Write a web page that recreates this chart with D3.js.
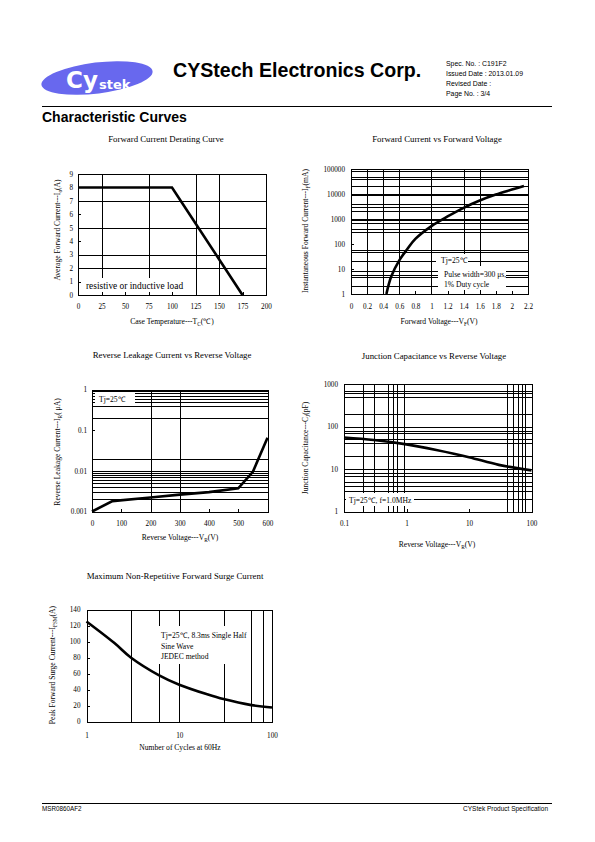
<!DOCTYPE html>
<html><head><meta charset="utf-8">
<script src="https://cdn.jsdelivr.net/npm/d3@7"></script>
<style>body{margin:0;background:#fff} svg{display:block}</style>
</head><body>
<script>
// ---------- DATA ----------
// Chart 1: Forward Current Derating Curve
const derateTemp = [0, 100, 175];
const derateCurrent = [8, 8, 0];
const derateXTicks = [0, 25, 50, 75, 100, 125, 150, 175, 200];
const derateYTicks = [0, 1, 2, 3, 4, 5, 6, 7, 8, 9];
const derateXGrid = [25, 75, 125, 150];
const derateYGrid = [2, 3, 5, 7];

// Chart 2: Forward Current vs Forward Voltage
const fwdVoltage = [0.44, 0.5, 0.6, 0.7, 0.8, 1.0, 1.2, 1.4, 1.6, 1.8, 2.0, 2.15];
const fwdCurrent = [1, 5, 22, 63, 160, 520, 1260, 2800, 5500, 9500, 15000, 21000];
const fwdXTicks = [0, 0.2, 0.4, 0.6, 0.8, 1, 1.2, 1.4, 1.6, 1.8, 2, 2.2];
const fwdYTicks = [1, 10, 100, 1000, 10000, 100000];
const fwdXGrid = [0.2, 0.4, 0.6, 1.0, 1.4, 1.6];
const fwdYGrid = [2, 5, 6, 8, 20, 50, 60, 300, 400, 700, 900, 1000, 2000, 3000, 4000, 9000, 10000, 20000, 40000, 50000, 80000];

// Chart 3: Reverse Leakage Current vs Reverse Voltage
const leakVoltage = [0, 70, 200, 300, 400, 500, 550, 600];
const leakCurrent = [0.001, 0.0018, 0.0022, 0.0026, 0.003, 0.0037, 0.0095, 0.065];
const leakXTicks = [0, 100, 200, 300, 400, 500, 600];
const leakYTicks = [0.001, 0.01, 0.1, 1];
const leakXGrid = [200, 300];
const leakYGrid = [0.002, 0.003, 0.004, 0.005, 0.006, 0.007, 0.008, 0.009, 0.01, 0.02, 0.2, 0.4, 0.5, 0.6, 0.7, 0.8, 0.9];

// Chart 4: Junction Capacitance vs Reverse Voltage
const capVoltage = [0.1, 0.3, 1, 3, 10, 30, 100];
const capValue = [55, 48, 38, 28, 19, 12.5, 9.3];
const capXTicks = [0.1, 1, 10, 100];
const capYTicks = [1, 10, 100, 1000];
const capXGrid = [0.2, 0.3, 0.5, 0.6, 0.7, 0.9, 40, 50, 60, 70, 80];
const capYGrid = [2, 3, 4, 5, 7, 8, 10, 20, 40, 50, 70, 80, 100, 200, 500, 600, 700];

// Chart 5: Maximum Non-Repetitive Forward Surge Current
const surgeCycles = [1, 2, 3, 6, 10, 20, 30, 60, 100];
const surgeCurrent = [125, 98, 80, 58, 46, 34, 28, 20.5, 17.5];
const surgeXTicks = [1, 10, 100];
const surgeYTicks = [0, 20, 40, 60, 80, 100, 120, 140];
const surgeXGrid = [3, 6, 10, 30, 60, 80];
const surgeYGrid = [];

// ---------- DRAWING ----------
const SERIF = "'Liberation Serif','Times New Roman',serif";
const SANS = "'Liberation Sans',Arial,sans-serif";
const svg = d3.select('body').append('svg').attr('width', 595).attr('height', 842);
svg.append('rect').attr('width', 595).attr('height', 842).attr('fill', '#fff');

// Header
const logo = svg.append('g').attr('transform', 'translate(97,78) rotate(-7)');
logo.append('ellipse').attr('rx', 56).attr('ry', 15.5).attr('fill', '#6868ee');
svg.append('text').attr('x', 66).attr('y', 88).attr('font-family', "'DejaVu Sans',sans-serif").attr('font-weight', 'bold')
  .attr('font-size', 23).attr('fill', '#fff').text('Cy');
svg.append('text').attr('x', 99).attr('y', 89).attr('font-family', "'DejaVu Sans',sans-serif").attr('font-weight', 'bold')
  .attr('font-size', 13).attr('fill', '#fff').text('stek');
svg.append('text').attr('x', 173).attr('y', 77).attr('font-family', SANS).attr('font-weight', 'bold')
  .attr('font-size', 19.6).attr('fill', '#000').text('CYStech Electronics Corp.');
const spec = ['Spec. No. : C191F2', 'Issued Date : 2013.01.09', 'Revised Date :', 'Page No. : 3/4'];
const specY = [65.5, 75.5, 85.5, 96];
spec.forEach((s, i) => svg.append('text').attr('x', 446).attr('y', specY[i]).attr('font-family', SANS)
  .attr('font-size', 6.9).text(s));
svg.append('line').attr('x1', 42).attr('x2', 552).attr('y1', 106.5).attr('y2', 106.5).attr('stroke', '#000').attr('stroke-width', 1.2);
svg.append('text').attr('x', 42).attr('y', 121.5).attr('font-family', SANS).attr('font-weight', 'bold')
  .attr('font-size', 14).text('Characteristic Curves');

// Footer
svg.append('line').attr('x1', 42).attr('x2', 552).attr('y1', 803.5).attr('y2', 803.5).attr('stroke', '#000').attr('stroke-width', 1);
svg.append('text').attr('x', 42).attr('y', 811).attr('font-family', SANS).attr('font-size', 6.3).text('MSR0860AF2');
svg.append('text').attr('x', 548).attr('y', 811).attr('text-anchor', 'end').attr('font-family', SANS).attr('font-size', 6.5).text('CYStek Product Specification');

function labelText(sel, parts) {
  let shift = 0;
  parts.forEach(p => {
    if (typeof p === 'string') {
      sel.append('tspan').attr('dy', shift ? -shift : null).text(p);
      shift = 0;
    } else {
      const d = p.dy || 1.5;
      sel.append('tspan').attr('font-size', '70%').attr('dy', d).text(p.sub);
      shift = d;
    }
  });
}

function drawChart(c) {
  const g = svg.append('g');
  const xs = (c.xLog ? d3.scaleLog() : d3.scaleLinear()).domain(c.xDomain).range([c.left, c.right]);
  const ys = (c.yLog ? d3.scaleLog() : d3.scaleLinear()).domain(c.yDomain).range([c.bottom, c.top]);
  const W = c.right - c.left, H = c.bottom - c.top;

  // gridlines
  const gx = g.append('g').attr('transform', `translate(0,${c.bottom})`)
    .call(d3.axisBottom(xs).tickValues(c.xGrid).tickSize(-H).tickFormat(''));
  gx.select('.domain').remove();
  const gy = g.append('g').attr('transform', `translate(${c.left},0)`)
    .call(d3.axisLeft(ys).tickValues(c.yGrid).tickSize(-W).tickFormat(''));
  gy.select('.domain').remove();
  g.selectAll('.tick line').attr('stroke', '#000').attr('stroke-width', 1).attr('shape-rendering', 'crispEdges');

  // annotations
  (c.notes || []).forEach(n => {
    g.append('rect').attr('x', n.box[0]).attr('y', n.box[1]).attr('width', n.box[2]).attr('height', n.box[3]).attr('fill', '#fff');
    n.lines.forEach((t, i) => g.append('text').attr('x', n.x).attr('y', n.y[i]).attr('font-family', SERIF)
      .attr('font-size', n.size).attr('fill', '#000').text(t));
  });

  // curve
  const line = d3.line().x(d => xs(d[0])).y(d => ys(d[1])).curve(c.curve || d3.curveLinear);
  g.append('path').datum(c.xs.map((v, i) => [v, c.ys[i]])).attr('d', line)
    .attr('fill', 'none').attr('stroke', '#000').attr('stroke-width', 2.6).attr('stroke-linejoin', 'miter');

  // frame
  g.append('rect').attr('x', c.left + 0.5).attr('y', c.top + 0.5).attr('width', W).attr('height', H)
    .attr('fill', 'none').attr('stroke', '#000').attr('stroke-width', 1).attr('shape-rendering', 'crispEdges');

  // axes
  const ax = g.append('g').attr('transform', `translate(0,${c.bottom})`)
    .call(d3.axisBottom(xs).tickValues(c.xTicks).tickSizeInner(-3).tickSizeOuter(0).tickPadding(c.xPad).tickFormat(d => String(d)));
  ax.select('.domain').remove();
  const ay = g.append('g').attr('transform', `translate(${c.left},0)`)
    .call(d3.axisLeft(ys).tickValues(c.yTicks).tickSizeInner(-3).tickSizeOuter(0).tickPadding(c.yPad).tickFormat(d => String(d)));
  ay.select('.domain').remove();
  [ax, ay].forEach(a => {
    a.attr('font-family', SERIF).attr('font-size', 7.2);
    a.selectAll('text').attr('fill', '#000');
    a.selectAll('line').attr('stroke', '#000').attr('shape-rendering', 'crispEdges');
  });

  // titles
  g.append('text').attr('x', c.titleX).attr('y', c.titleY).attr('text-anchor', 'middle')
    .attr('font-family', SERIF).attr('font-size', 8.8).text(c.title);
  const xt = g.append('text').attr('x', c.xLabelX).attr('y', c.xLabelY).attr('text-anchor', 'middle')
    .attr('font-family', SERIF).attr('font-size', 7.6);
  labelText(xt, c.xLabel);
  const yt = g.append('text').attr('transform', `translate(${c.yLabelX},${c.yLabelY}) rotate(-90)`)
    .attr('text-anchor', 'middle').attr('font-family', SERIF).attr('font-size', 7.6);
  labelText(yt, c.yLabel);
}

const smooth = d3.curveCatmullRom.alpha(0.5);

drawChart({
  left: 78, right: 266, top: 174, bottom: 295,
  xDomain: [0, 200], yDomain: [0, 9],
  xGrid: derateXGrid, yGrid: derateYGrid, xTicks: derateXTicks, yTicks: derateYTicks,
  xs: derateTemp, ys: derateCurrent, xPad: 9, yPad: 5,
  title: 'Forward Current Derating Curve', titleX: 166, titleY: 142,
  xLabel: ['Case Temperature---T', {sub: 'C'}, '(℃)'], xLabelX: 172, xLabelY: 324,
  yLabel: ['Average Forward Current---I', {sub: 'o'}, '(A)'], yLabelX: 60, yLabelY: 230,
  notes: [{box: [82, 278, 104, 14], x: 86, y: [288.5], size: 9.4, lines: ['resistive or inductive load']}]
});

drawChart({
  left: 351, right: 528, top: 169, bottom: 294, yLog: true,
  xDomain: [0, 2.2], yDomain: [1, 100000],
  xGrid: fwdXGrid, yGrid: fwdYGrid, xTicks: fwdXTicks, yTicks: fwdYTicks,
  xs: fwdVoltage, ys: fwdCurrent, xPad: 10, yPad: 6, curve: smooth,
  title: 'Forward Current vs Forward Voltage', titleX: 437, titleY: 142,
  xLabel: ['Forward Voltage---V', {sub: 'F'}, '(V)'], xLabelX: 439, xLabelY: 324,
  yLabel: ['Instantaneous Forward Current---I', {sub: 'F'}, '(mA)'], yLabelX: 308, yLabelY: 231,
  notes: [
    {box: [436, 254, 32, 12], x: 441, y: [263], size: 7.6, lines: ['Tj=25℃']},
    {box: [438, 266, 68, 24], x: 444, y: [276.5, 287], size: 7.6, lines: ['Pulse width=300 μs,', '1% Duty cycle']}
  ]
});

drawChart({
  left: 92, right: 267.5, top: 389.5, bottom: 511.5, yLog: true,
  xDomain: [0, 600], yDomain: [0.001, 1],
  xGrid: leakXGrid, yGrid: leakYGrid, xTicks: leakXTicks, yTicks: leakYTicks,
  xs: leakVoltage, ys: leakCurrent, xPad: 9, yPad: 5,
  title: 'Reverse  Leakage Current vs Reverse Voltage', titleX: 172, titleY: 358,
  xLabel: ['Reverse Voltage---V', {sub: 'R'}, '(V)'], xLabelX: 180, xLabelY: 540,
  yLabel: ['Reverse Leakage Current---I', {sub: 'R'}, '( μA)'], yLabelX: 60, yLabelY: 452,
  notes: [{box: [95, 392, 40, 13], x: 99, y: [402], size: 7.6, lines: ['Tj=25℃']}]
});

drawChart({
  left: 344, right: 531.5, top: 384, bottom: 511.5, xLog: true, yLog: true,
  xDomain: [0.1, 100], yDomain: [1, 1000],
  xGrid: capXGrid, yGrid: capYGrid, xTicks: capXTicks, yTicks: capYTicks,
  xs: capVoltage, ys: capValue, xPad: 9, yPad: 6, curve: smooth,
  title: 'Junction Capacitance vs Reverse Voltage', titleX: 434, titleY: 359,
  xLabel: ['Reverse Voltage---V', {sub: 'R'}, '(V)'], xLabelX: 437, xLabelY: 547,
  yLabel: ['Junction Capacitance---C', {sub: 'J'}, '(pF)'], yLabelX: 308, yLabelY: 448,
  notes: [{box: [346, 493, 68, 13], x: 349, y: [503], size: 7.6, lines: ['Tj=25℃, f=1.0MHz']}]
});

drawChart({
  left: 86.5, right: 272, top: 609.5, bottom: 721.5, xLog: true,
  xDomain: [1, 100], yDomain: [0, 140],
  xGrid: surgeXGrid, yGrid: surgeYGrid, xTicks: surgeXTicks, yTicks: surgeYTicks,
  xs: surgeCycles, ys: surgeCurrent, xPad: 11, yPad: 6, curve: smooth,
  title: 'Maximum Non-Repetitive Forward Surge Current', titleX: 175, titleY: 579,
  xLabel: ['Number of Cycles at 60Hz'], xLabelX: 180, xLabelY: 750,
  yLabel: ['Peak Forward Surge Current---I', {sub: 'FSM'}, '(A)'], yLabelX: 55, yLabelY: 665,
  notes: [{box: [157, 626, 92, 38], x: 161, y: [638, 649, 659], size: 7.6,
    lines: ['Tj=25℃, 8.3ms Single Half', 'Sine Wave', 'JEDEC method']}]
});
</script></body></html>
